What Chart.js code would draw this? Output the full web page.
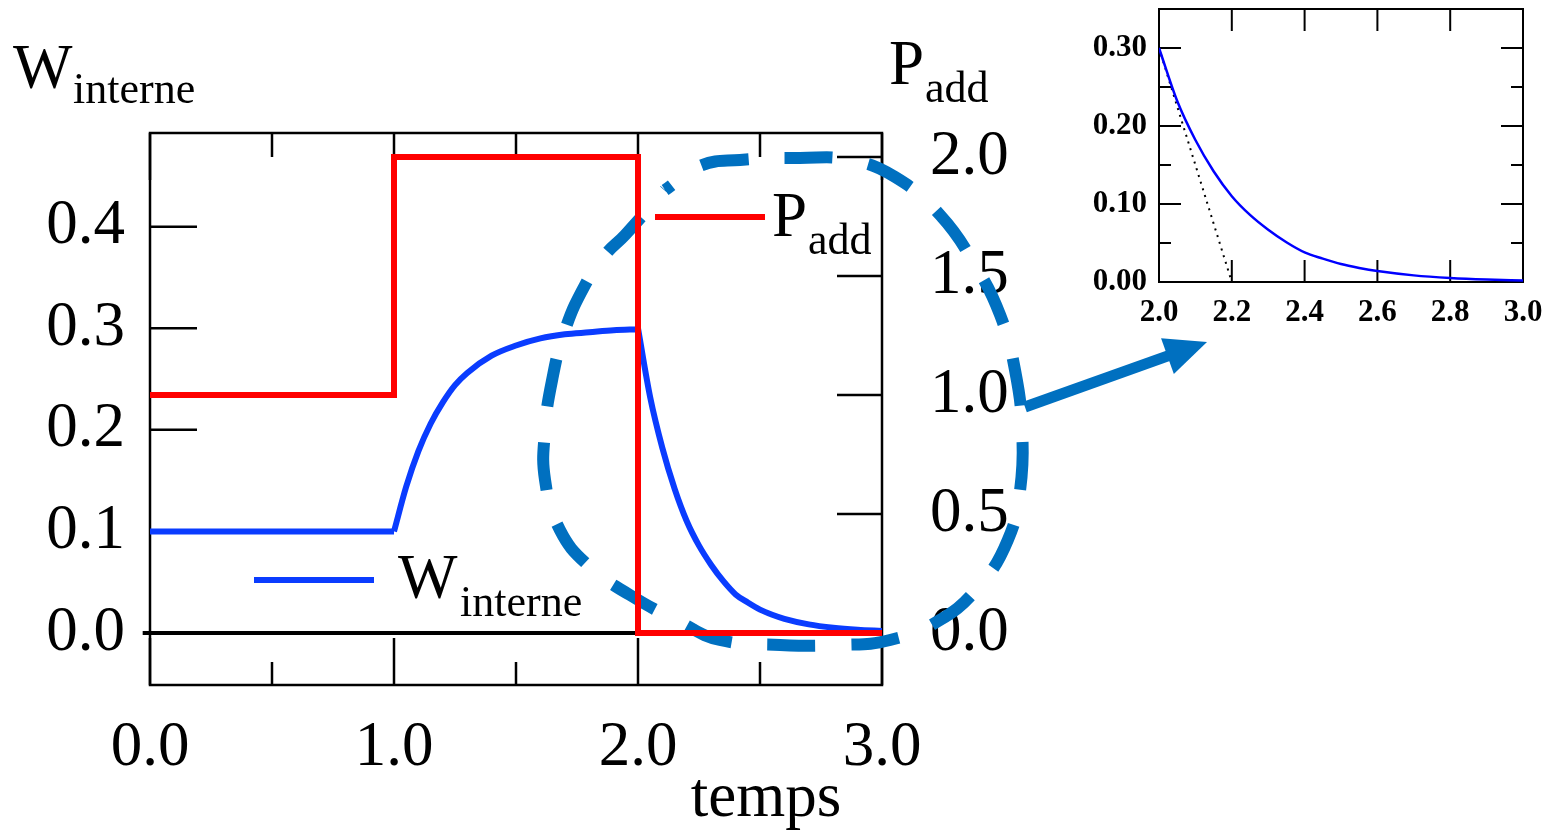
<!DOCTYPE html>
<html>
<head>
<meta charset="utf-8">
<script src="https://cdn.jsdelivr.net/npm/chart.js@4.4.1/dist/chart.umd.min.js"></script>
<style>
html, body { margin: 0; padding: 0; background: #fff; }
#wrap { position: relative; width: 1558px; height: 834px; overflow: hidden; }
#main { position: absolute; left: 0; top: 0; }
#inset { position: absolute; left: 1080px; top: 0; }
</style>
</head>
<body>
<div id="wrap">
  <canvas id="main" width="1558" height="834" style="width:1558px;height:834px"></canvas>
  <canvas id="inset" width="478" height="340" style="width:478px;height:340px"></canvas>
</div>
<script>
// P_add : échelon de puissance (axe de droite)
var tempsP = [0, 1, 1, 2, 2, 3];
var pAdd = [1.0, 1.0, 2.0, 2.0, 0.0, 0.0];

// W_interne : palier, montée, puis décroissance (axe de gauche)
var tempsPalier = [0, 1];
var wPalier = [0.1, 0.1];
var tempsMontee = [1.0, 1.05, 1.10, 1.15, 1.20, 1.25, 1.30, 1.40, 1.50, 1.60, 1.70, 1.80, 1.90, 2.0];
var wMontee = [0.100, 0.144, 0.179, 0.206, 0.227, 0.244, 0.256, 0.273, 0.283, 0.290, 0.294, 0.296, 0.298, 0.299];
var tempsDecroit = [2.0, 2.05, 2.10, 2.15, 2.20, 2.25, 2.30, 2.35, 2.40, 2.45, 2.50, 2.55, 2.60, 2.70, 2.80, 2.90, 3.0];
var wDecroit = [0.300, 0.232, 0.182, 0.142, 0.110, 0.086, 0.067, 0.051, 0.038, 0.030, 0.023, 0.018, 0.014, 0.0085, 0.0052, 0.0032, 0.002];

// ligne noire à W = 0
var tempsZero = [-0.03, 2];
var wZero = [0, 0];

// tangente à l'origine (encart)
var tempsTangente = [2.0, 2.2];
var wTangente = [0.30, 0.0];

// ellipse en tirets et flèche (annotation, en coordonnées des données)
var ellipseT = [2.111, 2.254, 2.418, 2.664, 2.869, 3.053, 3.238, 3.381, 3.484, 3.545, 3.574, 3.566, 3.516, 3.402, 3.238, 3.033, 2.828, 2.582, 2.336, 2.172, 1.967, 1.803, 1.680, 1.619, 1.619, 1.648, 1.701, 1.783, 1.865, 1.947, 2.111];
var ellipseW = [0.4361, 0.4598, 0.4657, 0.4676, 0.4657, 0.4489, 0.4115, 0.3623, 0.3131, 0.2589, 0.1999, 0.1408, 0.0916, 0.0473, 0.0128, -0.0069, -0.0118, -0.0118, -0.0069, 0.0108, 0.0374, 0.0650, 0.1014, 0.1506, 0.1999, 0.2491, 0.2983, 0.3426, 0.3721, 0.3918, 0.4361];
var flecheT = [3.586, 4.332];
var flecheW = [0.2225, 0.2865];

// graduations
var xTicks = [0, 1, 2, 3];
var xMinor = [0.5, 1.5, 2.5];
var wTicks = [0, 0.1, 0.2, 0.3, 0.4];
var pTicks = [0, 0.5, 1.0, 1.5, 2.0];
var insetXTicks = [2.0, 2.2, 2.4, 2.6, 2.8, 3.0];
var insetYTicks = [0, 0.1, 0.2, 0.3];
var insetYMinor = [0.05, 0.15, 0.25];

var SERIF = "'Liberation Serif', 'Times New Roman', serif";
var BLEU = '#0a3cff';
var ROUGE = '#ff0000';
var ELLIPSE = '#0070c0';

function pts(xs, ys) {
    return xs.map(function (x, i) { return { x: x, y: ys[i] }; });
}

// cadre et graduations vers l'intérieur
var tickMarks = {
    id: 'tickMarks',
    beforeDatasetsDraw: function (chart, args, opts) {
        var ctx = chart.ctx, a = chart.chartArea;
        ctx.save();
        ctx.strokeStyle = '#000';
        ctx.lineWidth = opts.width;
        ctx.strokeRect(a.left, a.top, a.right - a.left, a.bottom - a.top);
        opts.marks.forEach(function (m) {
            var s = chart.scales[m.scale];
            m.values.forEach(function (v) {
                var p = s.getPixelForValue(v);
                ctx.beginPath();
                if (m.side === 'bottom') { ctx.moveTo(p, a.bottom); ctx.lineTo(p, a.bottom - m.len); }
                if (m.side === 'top') { ctx.moveTo(p, a.top); ctx.lineTo(p, a.top + m.len); }
                if (m.side === 'left') { ctx.moveTo(a.left, p); ctx.lineTo(a.left + m.len, p); }
                if (m.side === 'right') { ctx.moveTo(a.right, p); ctx.lineTo(a.right - m.len, p); }
                ctx.stroke();
            });
        });
        ctx.restore();
    }
};

// titres, légende et flèche
var textes = {
    id: 'textes',
    afterDatasetsDraw: function (chart) {
        var ctx = chart.ctx;
        var x = chart.scales.x, yW = chart.scales.yW;
        ctx.save();

        // flèche vers l'encart
        var x0 = x.getPixelForValue(flecheT[0]), y0 = yW.getPixelForValue(flecheW[0]);
        var x1 = x.getPixelForValue(flecheT[1]), y1 = yW.getPixelForValue(flecheW[1]);
        var dx = x1 - x0, dy = y1 - y0, l = Math.sqrt(dx * dx + dy * dy);
        var ux = dx / l, uy = dy / l;
        ctx.strokeStyle = ELLIPSE;
        ctx.fillStyle = ELLIPSE;
        ctx.lineWidth = 11;
        ctx.beginPath();
        ctx.moveTo(x0, y0);
        ctx.lineTo(x1 - ux * 34, y1 - uy * 34);
        ctx.stroke();
        ctx.beginPath();
        ctx.moveTo(x1, y1);
        ctx.lineTo(x1 - ux * 42 - uy * 19, y1 - uy * 42 + ux * 19);
        ctx.lineTo(x1 - ux * 42 + uy * 19, y1 - uy * 42 - ux * 19);
        ctx.closePath();
        ctx.fill();

        // lignes de légende
        ctx.lineWidth = 6;
        ctx.strokeStyle = BLEU;
        ctx.beginPath(); ctx.moveTo(254, 580); ctx.lineTo(374, 580); ctx.stroke();
        ctx.strokeStyle = ROUGE;
        ctx.beginPath(); ctx.moveTo(655, 217); ctx.lineTo(765, 217); ctx.stroke();

        ctx.fillStyle = '#000';
        ctx.textBaseline = 'alphabetic';
        ctx.textAlign = 'left';
        function txt(s, px, py, size) {
            ctx.font = size + 'px ' + SERIF;
            ctx.fillText(s, px, py);
        }
        // titres des axes
        txt('W', 13, 88, 63);
        txt('interne', 73, 103, 44);
        txt('P', 889, 84, 63);
        txt('add', 925, 102, 44);
        // légende
        txt('W', 398, 598, 63);
        txt('interne', 460, 616, 44);
        txt('P', 772, 236, 63);
        txt('add', 808, 254, 44);
        // axe x
        ctx.textAlign = 'center';
        txt('temps', 766, 816, 63);
        ctx.restore();
    }
};

new Chart(document.getElementById('main'), {
    type: 'line',
    data: {
        datasets: [
            { data: pts(tempsP, pAdd), yAxisID: 'yP', borderColor: ROUGE, borderWidth: 6, borderJoinStyle: 'miter', pointRadius: 0, tension: 0 },
            { data: pts(tempsPalier, wPalier), yAxisID: 'yW', borderColor: BLEU, borderWidth: 6, pointRadius: 0 },
            { data: pts(tempsMontee, wMontee), yAxisID: 'yW', borderColor: BLEU, borderWidth: 6, pointRadius: 0, cubicInterpolationMode: 'monotone' },
            { data: pts(tempsDecroit, wDecroit), yAxisID: 'yW', borderColor: BLEU, borderWidth: 6, pointRadius: 0, cubicInterpolationMode: 'monotone' },
            { data: pts(tempsZero, wZero), yAxisID: 'yW', borderColor: '#000', borderWidth: 4, pointRadius: 0, clip: false },
            { data: pts(ellipseT, ellipseW), yAxisID: 'yW', borderColor: ELLIPSE, borderWidth: 12, borderDash: [48, 36], borderDashOffset: 40, pointRadius: 0, tension: 0.45, clip: false }
        ]
    },
    options: {
        responsive: false,
        animation: false,
        layout: { padding: { left: 0, top: 133, right: 536, bottom: 0 } },
        plugins: {
            legend: { display: false },
            tooltip: { enabled: false },
            tickMarks: {
                width: 2.5,
                marks: [
                    { scale: 'x', values: xTicks, len: 47, side: 'bottom' },
                    { scale: 'x', values: xMinor, len: 23, side: 'bottom' },
                    { scale: 'x', values: xTicks, len: 47, side: 'top' },
                    { scale: 'x', values: xMinor, len: 24, side: 'top' },
                    { scale: 'yW', values: wTicks, len: 47, side: 'left' },
                    { scale: 'yP', values: pTicks, len: 45, side: 'right' }
                ]
            }
        },
        scales: {
            x: {
                type: 'linear', position: 'bottom', min: 0, max: 3,
                grid: { display: false, drawTicks: false },
                border: { display: false },
                afterBuildTicks: function (s) { s.ticks = xTicks.map(function (v) { return { value: v }; }); },
                afterFit: function (s) { s.height = 149; s.paddingLeft = 0; s.paddingRight = 0; },
                ticks: { padding: 26, color: '#000', font: { family: SERIF, size: 63 }, maxRotation: 0, callback: function (v) { return Number(v).toFixed(1); } }
            },
            yW: {
                type: 'linear', position: 'left', min: -0.0512, max: 0.4922,
                grid: { display: false, drawTicks: false },
                border: { display: false },
                afterBuildTicks: function (s) { s.ticks = wTicks.map(function (v) { return { value: v }; }); },
                afterFit: function (s) { s.width = 150; s.paddingTop = 0; s.paddingBottom = 0; },
                ticks: { padding: 25, color: '#000', font: { family: SERIF, size: 63 }, callback: function (v) { return Number(v).toFixed(1); } }
            },
            yP: {
                type: 'linear', position: 'right', min: -0.2185, max: 2.101,
                grid: { display: false, drawTicks: false },
                border: { display: false },
                afterBuildTicks: function (s) { s.ticks = pTicks.map(function (v) { return { value: v }; }); },
                afterFit: function (s) { s.width = 140; s.paddingTop = 0; s.paddingBottom = 0; },
                ticks: { padding: 48, color: '#000', font: { family: SERIF, size: 63 }, callback: function (v) { return Number(v).toFixed(1); } }
            }
        }
    },
    plugins: [tickMarks, textes]
});

// encart : zoom sur la décroissance
new Chart(document.getElementById('inset'), {
    type: 'line',
    data: {
        datasets: [
            { data: pts(tempsDecroit, wDecroit), borderColor: '#0000ff', borderWidth: 2.5, pointRadius: 0, cubicInterpolationMode: 'monotone' },
            { data: pts(tempsTangente, wTangente), borderColor: '#000', borderWidth: 2, borderDash: [2, 5], pointRadius: 0 }
        ]
    },
    options: {
        responsive: false,
        animation: false,
        layout: { padding: { left: 0, top: 9, right: 35, bottom: 0 } },
        plugins: {
            legend: { display: false },
            tooltip: { enabled: false },
            tickMarks: {
                width: 2,
                marks: [
                    { scale: 'x', values: insetXTicks, len: 22, side: 'bottom' },
                    { scale: 'x', values: insetXTicks, len: 22, side: 'top' },
                    { scale: 'y', values: insetYTicks, len: 22, side: 'left' },
                    { scale: 'y', values: insetYMinor, len: 12, side: 'left' },
                    { scale: 'y', values: insetYTicks, len: 22, side: 'right' },
                    { scale: 'y', values: insetYMinor, len: 12, side: 'right' }
                ]
            }
        },
        scales: {
            x: {
                type: 'linear', min: 2, max: 3,
                grid: { display: false, drawTicks: false },
                border: { display: false },
                afterBuildTicks: function (s) { s.ticks = insetXTicks.map(function (v) { return { value: v }; }); },
                afterFit: function (s) { s.height = 58; s.paddingLeft = 0; s.paddingRight = 0; },
                ticks: { padding: 12, color: '#000', font: { family: SERIF, size: 31, weight: 'bold' }, maxRotation: 0, callback: function (v) { return Number(v).toFixed(1); } }
            },
            y: {
                type: 'linear', min: 0, max: 0.35,
                grid: { display: false, drawTicks: false },
                border: { display: false },
                afterBuildTicks: function (s) { s.ticks = insetYTicks.map(function (v) { return { value: v }; }); },
                afterFit: function (s) { s.width = 79; s.paddingTop = 0; s.paddingBottom = 0; },
                ticks: { padding: 12, color: '#000', font: { family: SERIF, size: 31, weight: 'bold' }, callback: function (v) { return Number(v).toFixed(2); } }
            }
        }
    },
    plugins: [tickMarks]
});
</script>
</body>
</html>
